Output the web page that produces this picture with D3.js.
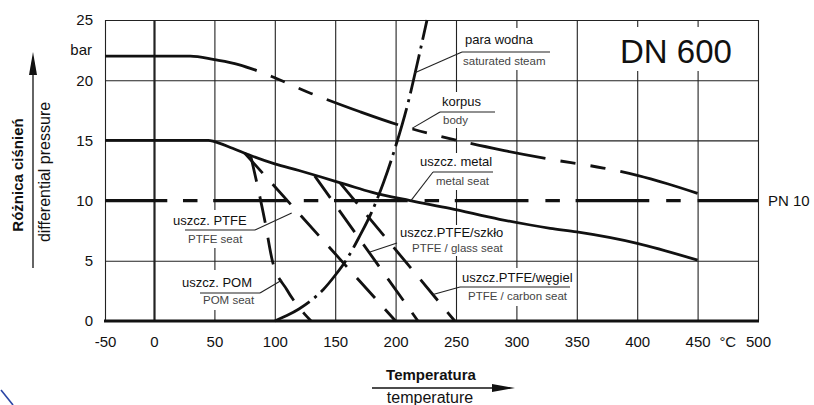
<!DOCTYPE html>
<html>
<head>
<meta charset="utf-8">
<script src="https://cdn.jsdelivr.net/npm/d3@7"></script>
<style>
  body { margin: 0; background: #fff; }
  text { font-family: "Liberation Sans", Arial, sans-serif; }
</style>
</head>
<body>
<svg id="chart" width="814" height="405"></svg>
<script>
// DN 600 valve: allowed differential pressure vs temperature

const tempTicks = [-50, 0, 50, 100, 150, 200, 250, 300, 350, 400, 450, 500];
const pressureTicks = [0, 5, 10, 15, 20, 25];
const pnLevel = 10;

// korpus / body
const bodyCurve = [[-50, 22], [30, 22], [50, 21.7], [70, 21.3], [85, 20.8], [100, 20.2],
  [130, 18.9], [143, 18.4], [170, 17.4], [202, 16.3], [251, 15.0], [290, 14.15],
  [324, 13.5], [372, 12.7], [400, 12.1], [425, 11.4], [450, 10.6]];
// uszcz. metal / metal seat
const metalCurve = [[-50, 15], [45, 15], [50, 14.9], [65, 14.35], [80, 13.75], [100, 13.05],
  [120, 12.5], [137, 12.0], [160, 11.3], [180, 10.7], [212, 10.0], [245, 9.35],
  [286, 8.45], [328, 7.7], [350, 7.4], [400, 6.45], [450, 5.05]];
// para wodna / saturated steam
const steamCurve = [[100, 0], [110, 0.45], [120, 1.0], [130, 1.7], [140, 2.6], [150, 3.8],
  [160, 5.2], [170, 7.0], [180, 9.0], [190, 11.5], [200, 14.5], [210, 18.0], [220, 22.3], [226, 25]];
// seat limits
const pomSeat = [[80, 13.75], [92, 8.2], [98, 5.0], [110, 2.6], [130, 0]];
const ptfeSeat = [[75, 13.95], [200, 0]];
const glassSeat = [[133, 12.05], [218.5, 0]];
const carbonSeat = [[154, 11.48], [249, 0]];

const FONT = '"Liberation Sans", Arial, sans-serif';
const svg = d3.select("#chart");

const x = d3.scaleLinear().domain([-50, 0, 500]).range([105, 154, 758]);
const y = d3.scaleLinear().domain([0, 25]).range([321, 20]);
const xLeft = x(-50), xRight = x(500), yTop = y(25), yBottom = y(0);

// grid
svg.append("g")
  .attr("transform", `translate(0,${yBottom})`)
  .call(d3.axisBottom(x).tickValues(tempTicks).tickSize(-(yBottom - yTop)).tickFormat(""))
  .call(g => g.select(".domain").remove())
  .selectAll("line")
  .attr("stroke", "#222")
  .attr("stroke-width", d => d === 0 ? 2.2 : 1.1);

svg.append("g")
  .attr("transform", `translate(${xLeft},0)`)
  .call(d3.axisLeft(y).tickValues(pressureTicks.filter(d => d !== 0 && d !== pnLevel))
    .tickSize(-(xRight - xLeft)).tickFormat(""))
  .call(g => g.select(".domain").remove())
  .selectAll("line")
  .attr("stroke", "#222")
  .attr("stroke-width", 1.1);

svg.append("line")
  .attr("x1", xLeft - 1).attr("x2", xRight + 1)
  .attr("y1", yBottom).attr("y2", yBottom)
  .attr("stroke", "#111").attr("stroke-width", 2.8);

// white boxes behind the labels (they hide the grid)
const labelBoxes = [
  [458, 28, 96, 42], [437, 92, 62, 36], [417, 153, 80, 37], [170, 210, 88, 38],
  [180, 270, 84, 40], [399, 225, 112, 31], [458, 268, 116, 38], [600, 27, 145, 44]
];
svg.append("g").selectAll("rect")
  .data(labelBoxes)
  .enter().append("rect")
  .attr("x", d => d[0]).attr("y", d => d[1])
  .attr("width", d => d[2]).attr("height", d => d[3])
  .attr("fill", "#fff");

const line = d3.line()
  .x(d => x(d[0]))
  .y(d => y(d[1]))
  .curve(d3.curveMonotoneX);

function curve(data, width) {
  return svg.append("path")
    .datum(data)
    .attr("d", line)
    .attr("fill", "none")
    .attr("stroke", "#111")
    .attr("stroke-width", width)
    .attr("stroke-linecap", "butt");
}

// dash pattern: solid everywhere except in given temperature ranges,
// which are split into gap/dash/gap/dash/gap
function rangeDash(path, ranges, parts) {
  const node = path.node();
  const total = node.getTotalLength();
  const at = px => {
    let lo = 0, hi = total;
    for (let i = 0; i < 30; i++) {
      const mid = (lo + hi) / 2;
      if (node.getPointAtLength(mid).x < px) lo = mid; else hi = mid;
    }
    return lo;
  };
  const arr = [];
  let pos = 0;
  ranges.forEach(([a, b]) => {
    const l0 = at(x(a)), l1 = at(x(b));
    arr.push(l0 - pos);
    const g = (l1 - l0) / parts;
    for (let i = 0; i < parts; i++) arr.push(g);
    pos = l1;
  });
  arr.push(total - pos, total);
  path.attr("stroke-dasharray", arr.map(v => v.toFixed(2)).join(" "));
}

// PN 10 line: long dash / short dash, solid at both ends
const pnDashes = [];
for (let k = 0; k < 5; k++) {
  pnDashes.push([24 + 100 * k, 36 + 100 * k]);
  if (k < 4) pnDashes.push([49 + 100 * k, 110 + 100 * k]);
}
{
  const segs = [[-50, 11], ...pnDashes, [450, 500]];
  const arr = [];
  let pos = x(-50);
  segs.forEach(([a, b]) => {
    if (x(a) > pos) arr.push(0, x(a) - pos); // zero dash + gap keeps parity
    arr.push(x(b) - x(a), 0);
    pos = x(b);
  });
  svg.append("line")
    .attr("x1", x(-50)).attr("x2", x(500))
    .attr("y1", y(pnLevel)).attr("y2", y(pnLevel))
    .attr("stroke", "#111").attr("stroke-width", 3.4)
    .attr("stroke-dasharray", arr.map(v => v.toFixed(2)).join(" "));
}

curve(metalCurve, 2.8);
rangeDash(curve(bodyCurve, 2.8), [[85, 143], [202, 262], [324, 386]], 5);

[pomSeat, ptfeSeat, glassSeat, carbonSeat].forEach(s => {
  curve(s, 2.8).attr("stroke-dasharray", "27 15");
});

curve(steamCurve, 2.8).attr("stroke-dasharray", "40 6 3 6");

// tick labels
svg.append("g")
  .attr("transform", `translate(0,${yBottom})`)
  .call(d3.axisBottom(x).tickValues(tempTicks).tickSize(0).tickPadding(15).tickFormat(d => String(d)))
  .call(g => g.select(".domain").remove())
  .attr("font-family", FONT).attr("font-size", 15)
  .selectAll("text").attr("fill", "#111");

svg.append("g")
  .attr("transform", `translate(${xLeft},0)`)
  .call(d3.axisLeft(y).tickValues(pressureTicks).tickSize(0).tickPadding(12).tickFormat(d => String(d)))
  .call(g => g.select(".domain").remove())
  .attr("font-family", FONT).attr("font-size", 15)
  .selectAll("text").attr("fill", "#111");

svg.append("text").attr("x", xLeft - 13).attr("y", y(22.5)).attr("dy", "0.32em")
  .attr("text-anchor", "end").attr("font-size", 15).attr("fill", "#111").text("bar");
svg.append("text").attr("x", x(475)).attr("y", yBottom + 15).attr("dy", "0.71em")
  .attr("text-anchor", "middle").attr("font-size", 15).attr("fill", "#111").text("°C");
svg.append("text").attr("x", 768).attr("y", y(pnLevel)).attr("dy", "0.35em")
  .attr("font-size", 15).attr("fill", "#111").text("PN 10");
svg.append("text").attr("x", 620).attr("y", 63)
  .attr("font-size", 33).attr("fill", "#111").text("DN 600");

// annotations: main label, sub label, underline, leader to a point on the curve
const notes = [
  { main: "para wodna", sub: "saturated steam", m: [465, 44], s: [463, 65], ul: [462, 550, 52], from: [462, 52], to: [215.5, 20.6] },
  { main: "korpus", sub: "body", m: [442, 106], s: [443, 124], ul: [440, 495, 112], from: [440, 112], to: [213.6, 16.0] },
  { main: "uszcz. metal", sub: "metal seat", m: [420, 166], s: [436, 185], ul: [433, 493, 172], from: [433, 172], to: [212.7, 10.0] },
  { main: "uszcz. PTFE", sub: "PTFE seat", m: [173, 225], s: [188, 243], ul: [185, 255, 230], from: [255, 230], to: [114, 8.97] },
  { main: "uszcz. POM", sub: "POM seat", m: [182, 287], s: [203, 304], ul: [200, 260, 293], from: [260, 293], to: [106, 3.4] },
  { main: "uszcz.PTFE/szkło", sub: "PTFE / glass seat", m: [400, 237], s: [412, 252], ul: null, from: [397, 243], to: [178.8, 5.73] },
  { main: "uszcz.PTFE/węgiel", sub: "PTFE / carbon seat", m: [462, 282], s: [468, 300], ul: [460, 570, 287], from: [460, 287], to: [231, 2.2] }
];

const ng = svg.append("g");
notes.forEach(n => {
  ng.append("text").attr("x", n.m[0]).attr("y", n.m[1])
    .attr("font-size", 13).attr("fill", "#111").text(n.main);
  ng.append("text").attr("x", n.s[0]).attr("y", n.s[1])
    .attr("font-size", 11.5).attr("fill", "#444").text(n.sub);
  if (n.ul) {
    ng.append("line").attr("x1", n.ul[0]).attr("x2", n.ul[1])
      .attr("y1", n.ul[2]).attr("y2", n.ul[2])
      .attr("stroke", "#222").attr("stroke-width", 1.1);
  }
  ng.append("line")
    .attr("x1", n.from[0]).attr("y1", n.from[1])
    .attr("x2", x(n.to[0])).attr("y2", y(n.to[1]))
    .attr("stroke", "#222").attr("stroke-width", 1.1);
});

// axis titles with arrows
svg.append("text").attr("x", 431).attr("y", 380).attr("text-anchor", "middle")
  .attr("font-size", 15).attr("font-weight", "bold").attr("fill", "#111").text("Temperatura");
svg.append("text").attr("x", 430).attr("y", 403).attr("text-anchor", "middle")
  .attr("font-size", 16).attr("fill", "#111").text("temperature");
svg.append("line").attr("x1", 372).attr("x2", 495).attr("y1", 388).attr("y2", 388)
  .attr("stroke", "#111").attr("stroke-width", 1.3);
svg.append("path").attr("d", "M515,388 L492,384 L492,392 Z").attr("fill", "#111");

svg.append("text").attr("transform", "translate(23,175) rotate(-90)").attr("text-anchor", "middle")
  .attr("font-size", 15).attr("font-weight", "bold").attr("fill", "#111").text("Różnica ciśnień");
svg.append("text").attr("transform", "translate(50,172) rotate(-90)").attr("text-anchor", "middle")
  .attr("font-size", 16).attr("fill", "#111").text("differential pressure");
svg.append("line").attr("x1", 33).attr("x2", 33).attr("y1", 268).attr("y2", 72)
  .attr("stroke", "#111").attr("stroke-width", 1.3);
svg.append("path").attr("d", "M33,52 L29,75 L37,75 Z").attr("fill", "#111");

// scan mark in the corner
svg.append("path").attr("d", "M1,390 L13,405")
  .attr("fill", "none").attr("stroke", "#2a45a5").attr("stroke-width", 1.6);
</script>
</body>
</html>
